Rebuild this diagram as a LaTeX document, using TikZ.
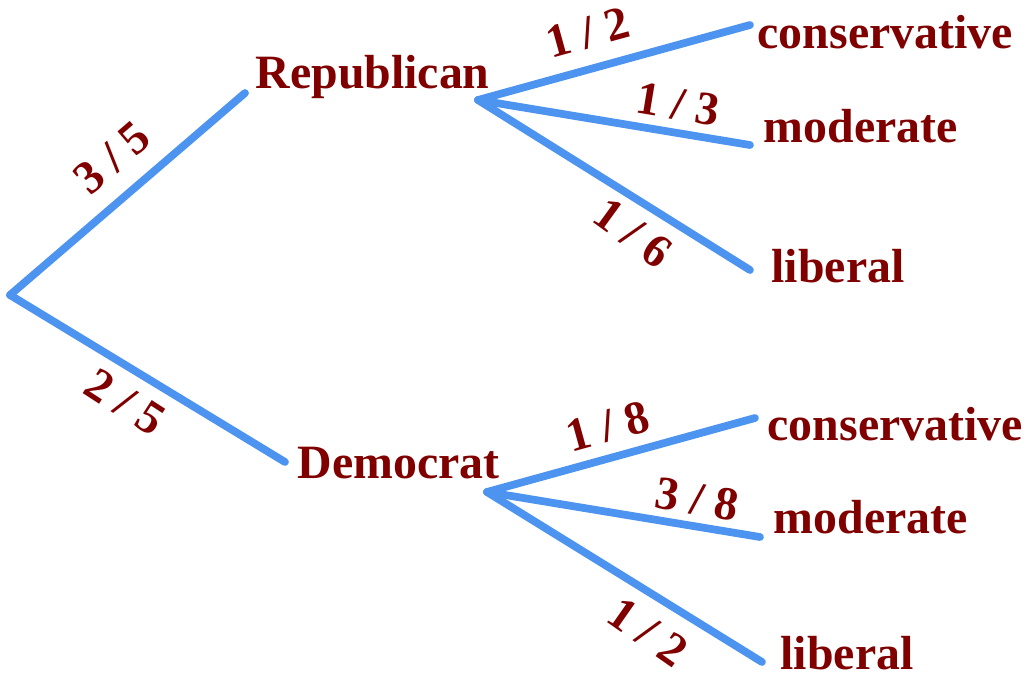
\documentclass[tikz,border=0pt]{standalone}
\usepackage{fontspec}
\setmainfont{Liberation Serif}
\definecolor{branch}{RGB}{77,148,240}
\definecolor{txt}{RGB}{128,0,0}
\begin{document}
\begin{tikzpicture}[x=0.01cm,y=-0.01cm,
  edge/.style={draw=branch,line width=2.2pt,line cap=round},
  word/.style={inner sep=0pt,anchor=base west,text=txt,font=\fontsize{13.6}{16}\selectfont\bfseries},
  prob/.style={inner sep=0pt,anchor=center,text=txt,font=\fontsize{13.4}{15}\selectfont\bfseries}]
\useasboundingbox[fill=white] (0,0) rectangle (1029,675);
% coordinates of branch points
\coordinate (root) at (10,295);
\coordinate (repin) at (245,93);
\coordinate (demin) at (285,462);
\coordinate (repout) at (478,100);
\coordinate (demout) at (487,492);
\coordinate (rc) at (750,25);
\coordinate (rm) at (750,145);
\coordinate (rl) at (750,270);
\coordinate (dc) at (755,418);
\coordinate (dm) at (760,537);
\coordinate (dl) at (762,662);
% words
\node[word] (rep) at (255,88) {Republican};
\node[word] (dem) at (297,478) {Democrat};
\node[word] (rcon) at (757,48) {conservative};
\node[word] (rmod) at (763,142) {moderate};
\node[word] (rlib) at (771,282) {liberal};
\node[word] (dcon) at (767,440) {conservative};
\node[word] (dmod) at (773,533) {moderate};
\node[word] (dlib) at (780,669) {liberal};
% edges
\draw[edge] (root) -- (repin);
\draw[edge] (root) -- (demin);
\draw[edge] (repout) -- (rc);
\draw[edge] (repout) -- (rm);
\draw[edge] (repout) -- (rl);
\draw[edge] (demout) -- (dc);
\draw[edge] (demout) -- (dm);
\draw[edge] (demout) -- (dl);
% probabilities
\node[prob,rotate=40.7] (p1) at (112,158) {3 / 5};
\node[prob,rotate=-33] (p2) at (125,402) {2 / 5};
\node[prob,rotate=15.4] (p3) at (588,33) {1 / 2};
\node[prob,rotate=-9.4] (p4) at (678,104) {1 / 3};
\node[prob,rotate=-36] (p5) at (633,233) {1 / 6};
\node[prob,rotate=15.4] (p6) at (608,426) {1 / 8};
\node[prob,rotate=-9.4] (p7) at (697,499) {3 / 8};
\node[prob,rotate=-35] (p8) at (648,632) {1 / 2};
\end{tikzpicture}
\end{document}
